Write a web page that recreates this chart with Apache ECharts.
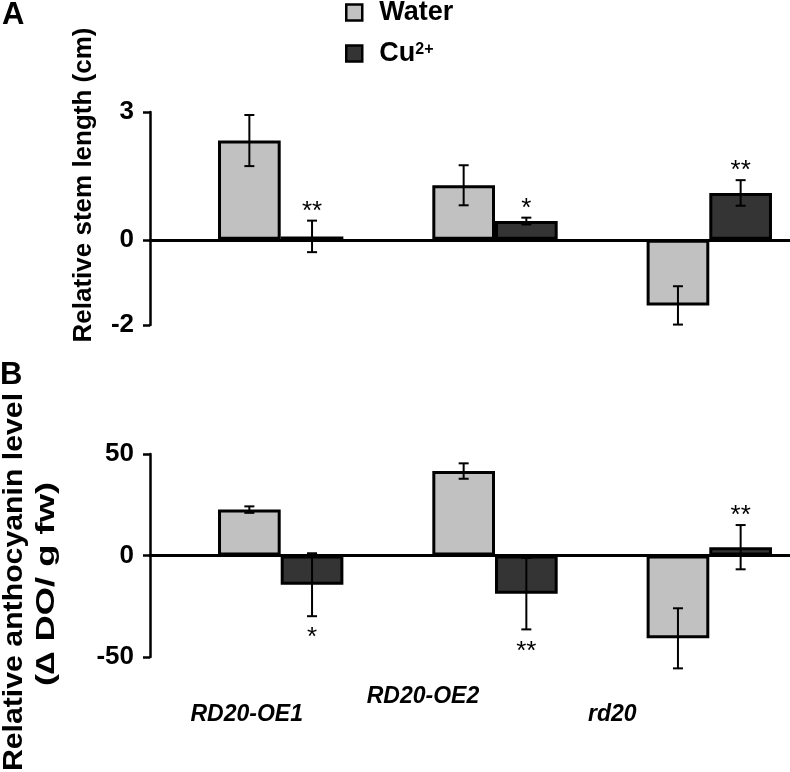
<!DOCTYPE html>
<html>
<head>
<meta charset="utf-8">
<script src="https://cdn.jsdelivr.net/npm/echarts@6/dist/echarts.min.js"></script>
<style>
html,body{margin:0;padding:0;background:#fff;}
#chart{width:790px;height:772px;}
</style>
</head>
<body>
<div id="chart"></div>
<script>
// ---- data ----
const categories = ['RD20-OE1', 'RD20-OE2', 'rd20'];
const seriesNames = ['Water', 'Cu2+'];
const stemWater = [2.33, 1.28, -1.54];
const stemWaterErr = [0.6, 0.47, 0.45];
const stemCu = [0.08, 0.44, 1.1];
const stemCuErr = [0.37, 0.08, 0.3];
const stemCuSig = ['**', '*', '**'];
const anthoWater = [22.6, 41.6, -40.8];
const anthoWaterErr = [1.6, 3.8, 14.8];
const anthoCu = [-14.4, -18.8, 4.1];
const anthoCuErr = [15.5, 17.6, 10.9];
const anthoCuSig = ['*', '**', '**'];
const stemTicks = [-2, 0, 3];
const anthoTicks = [-50, 0, 50];
const panelLabels = ['A', 'B'];
const stemTitle = 'Relative stem length (cm)';
const anthoTitle = ['Relative anthocyanin level', '(\u2206 DO/ g fw)'];

// ---- styles ----
const FONT = '"Liberation Sans", Arial, sans-serif';
const WATER_COLOR = '#c1c1c1';
const CU_COLOR = '#343434';
const GAP = 0.415;

const chart = echarts.init(document.getElementById('chart'));

function errRender(sign, sigArr) {
  return function (params, api) {
    const x = api.value(0), m = api.value(1), e = api.value(2);
    const band = api.size([1, 0])[0];
    const dx = sign * band * (1 - GAP) / 4;
    const top = api.coord([x, m + e]);
    const bot = api.coord([x, m - e]);
    const cx = top[0] + dx;
    const cap = 5;
    const ls = { stroke: '#000', lineWidth: 2 };
    const children = [
      { type: 'line', shape: { x1: cx, y1: top[1], x2: cx, y2: bot[1] }, style: ls },
      { type: 'line', shape: { x1: cx - cap, y1: top[1], x2: cx + cap, y2: top[1] }, style: ls },
      { type: 'line', shape: { x1: cx - cap, y1: bot[1], x2: cx + cap, y2: bot[1] }, style: ls }
    ];
    const sig = sigArr ? sigArr[params.dataIndex] : '';
    if (sig) {
      const y = m >= 0 ? top[1] - 9 : bot[1] + 22;
      children.push({
        type: 'text',
        style: { text: sig, x: cx, y: y, align: 'center', verticalAlign: 'middle',
                 fontSize: 26, fontFamily: FONT, fill: '#000' }
      });
    }
    return { type: 'group', children: children };
  };
}

function errData(vals, errs) {
  return categories.map((c, i) => [i, vals[i], errs[i]]);
}

const gridA = { top: 112, height: 213 };
const gridB = { top: 454, height: 203 };
const barGrid = { left: 280.7, width: 428.6 };

const layoutYAxis = (gi, min, max, ticks) => ({
  type: 'value', gridIndex: gi, min: min, max: max,
  axisLine: { show: true, lineStyle: { color: '#000', width: 2.5 } },
  axisTick: { show: true, length: 7, lineStyle: { color: '#000', width: 2.5 }, customValues: ticks },
  axisLabel: { color: '#000', fontSize: 26, fontWeight: 'bold', fontFamily: FONT, margin: 16, customValues: ticks },
  splitLine: { show: false }
});
const hiddenYAxis = (gi, min, max) => ({
  type: 'value', gridIndex: gi, min: min, max: max, show: false, splitLine: { show: false }
});
const zeroXAxis = (gi) => ({
  type: 'value', gridIndex: gi, min: 0, max: 1,
  axisLine: { show: true, onZero: true, lineStyle: { color: '#000', width: 3 } },
  axisTick: { show: false }, axisLabel: { show: false }, splitLine: { show: false }
});
const catLabelStyle = { fontSize: 23, fontWeight: 'bold', fontStyle: 'italic', color: '#000', fontFamily: FONT, lineHeight: 26 };

const option = {
  animation: false,
  backgroundColor: '#fff',
  textStyle: { fontFamily: FONT },
  legend: {
    orient: 'vertical', left: 340, top: -6, itemGap: 14, itemWidth: 16, itemHeight: 16,
    icon: 'rect',
    data: seriesNames,
    itemStyle: { borderColor: '#000', borderWidth: 2.5 },
    formatter: function (name) { return name === 'Cu2+' ? 'Cu{sup|2+}' : name; },
    textStyle: {
      fontSize: 27, fontWeight: 'bold', color: '#000', fontFamily: FONT, lineHeight: 24, padding: [0, 0, 0, 12],
      rich: { sup: { fontSize: 16, fontWeight: 'bold', color: '#000', fontFamily: FONT, verticalAlign: 'top', padding: [0, 0, 12, 0] } }
    }
  },
  grid: [
    { left: 150, right: 0, top: gridA.top, height: gridA.height, outerBoundsMode: 'none' },
    { left: barGrid.left, width: barGrid.width, top: gridA.top, height: gridA.height, outerBoundsMode: 'none' },
    { left: 150, right: 0, top: gridB.top, height: gridB.height, outerBoundsMode: 'none' },
    { left: barGrid.left, width: barGrid.width, top: gridB.top, height: gridB.height, outerBoundsMode: 'none' }
  ],
  xAxis: [
    zeroXAxis(0),
    { type: 'category', gridIndex: 1, data: categories, boundaryGap: false, show: false },
    zeroXAxis(2),
    {
      type: 'category', gridIndex: 3, data: categories, boundaryGap: false, position: 'bottom',
      axisLine: { show: false, onZero: false }, axisTick: { show: false },
      axisLabel: {
        interval: 0, margin: 27,
        formatter: function (v) { return '{c' + categories.indexOf(v) + '|' + v + '}'; },
        rich: {
          c0: Object.assign({}, catLabelStyle, { padding: [36, 68, 0, 0] }),
          c1: Object.assign({}, catLabelStyle, { padding: [0, 144, 0, 0] }),
          c2: Object.assign({}, catLabelStyle, { padding: [36, 194, 0, 0] })
        }
      }
    }
  ],
  yAxis: [
    layoutYAxis(0, -2, 3, stemTicks),
    hiddenYAxis(1, -2, 3),
    layoutYAxis(2, -50, 50, anthoTicks),
    hiddenYAxis(3, -50, 50)
  ],
  graphic: [
    { type: 'text', left: 2, top: 0, style: { text: panelLabels[0], fontSize: 31, fontWeight: 'bold', fontFamily: FONT, fill: '#000' } },
    { type: 'text', left: 0, top: 360, style: { text: panelLabels[1], fontSize: 31, fontWeight: 'bold', fontFamily: FONT, fill: '#000' } },
    { type: 'text', x: 84, y: 185, rotation: Math.PI / 2, style: { text: stemTitle, align: 'center', verticalAlign: 'middle', fontSize: 26, fontWeight: 'bold', fontFamily: FONT, fill: '#000' } },
    { type: 'text', x: 15, y: 582, rotation: Math.PI / 2, scaleX: 1.12, style: { text: anthoTitle[0], align: 'center', verticalAlign: 'middle', fontSize: 27, fontWeight: 'bold', fontFamily: FONT, fill: '#000' } },
    { type: 'text', x: 47, y: 584, rotation: Math.PI / 2, scaleX: 1.4, style: { text: anthoTitle[1], align: 'center', verticalAlign: 'middle', fontSize: 26, fontWeight: 'bold', fontFamily: FONT, fill: '#000' } }
  ],
  series: [
    { name: seriesNames[0], type: 'bar', xAxisIndex: 1, yAxisIndex: 1, data: stemWater, clip: false, barGap: '0%', barCategoryGap: (GAP * 100) + '%',
      itemStyle: { color: WATER_COLOR, borderColor: '#000', borderWidth: 3 } },
    { name: seriesNames[1], type: 'bar', xAxisIndex: 1, yAxisIndex: 1, data: stemCu, clip: false, barGap: '0%', barCategoryGap: (GAP * 100) + '%',
      itemStyle: { color: CU_COLOR, borderColor: '#000', borderWidth: 3 } },
    { name: seriesNames[0], type: 'bar', xAxisIndex: 3, yAxisIndex: 3, data: anthoWater, clip: false, barGap: '0%', barCategoryGap: (GAP * 100) + '%',
      itemStyle: { color: WATER_COLOR, borderColor: '#000', borderWidth: 3 } },
    { name: seriesNames[1], type: 'bar', xAxisIndex: 3, yAxisIndex: 3, data: anthoCu, clip: false, barGap: '0%', barCategoryGap: (GAP * 100) + '%',
      itemStyle: { color: CU_COLOR, borderColor: '#000', borderWidth: 3 } },
    { name: 'errStemWater', type: 'custom', xAxisIndex: 1, yAxisIndex: 1, z: 5, clip: false, renderItem: errRender(-1, null), data: errData(stemWater, stemWaterErr) },
    { name: 'errStemCu', type: 'custom', xAxisIndex: 1, yAxisIndex: 1, z: 5, clip: false, renderItem: errRender(1, stemCuSig), data: errData(stemCu, stemCuErr) },
    { name: 'errAnthoWater', type: 'custom', xAxisIndex: 3, yAxisIndex: 3, z: 5, clip: false, renderItem: errRender(-1, null), data: errData(anthoWater, anthoWaterErr) },
    { name: 'errAnthoCu', type: 'custom', xAxisIndex: 3, yAxisIndex: 3, z: 5, clip: false, renderItem: errRender(1, anthoCuSig), data: errData(anthoCu, anthoCuErr) }
  ]
};
chart.setOption(option);
</script>
</body>
</html>
